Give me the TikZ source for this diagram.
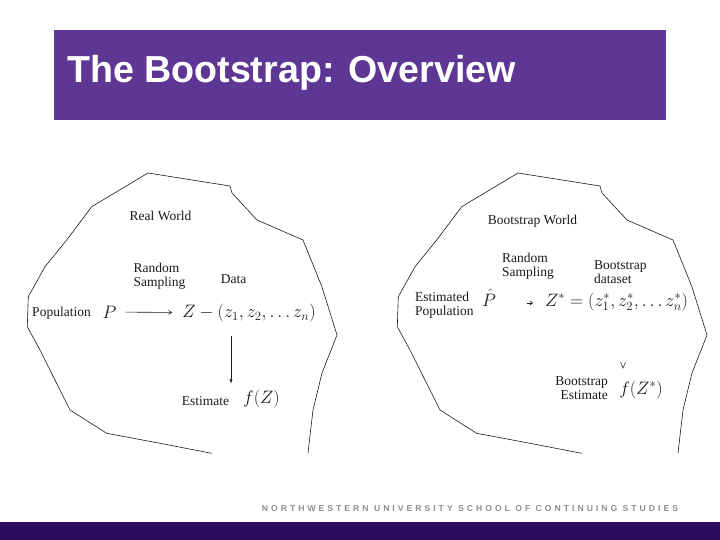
\RequirePackage{fix-cm}
\documentclass[tikz,border=0pt]{standalone}
\usepackage{fontspec}
\setmainfont{Liberation Serif}
\newfontfamily\titlefont{Liberation Sans}
\newfontfamily\footfont[LetterSpace=35]{Liberation Sans}
\usetikzlibrary{arrows.meta}
\definecolor{titlepurple}{HTML}{5E3694}
\definecolor{footpurple}{HTML}{2B0C5E}
\definecolor{footgray}{HTML}{8E8E8E}
\definecolor{ink}{HTML}{1A1A1A}
\tikzset{
  lbl/.style={inner sep=0pt, text=ink, font=\fontsize{13.5}{14}\selectfont},
  mth/.style={inner sep=0pt, text=ink, font=\fontsize{18}{20}\selectfont},
  blob/.style={draw=ink, line width=0.6pt, line join=round},
  arr/.style={draw=ink, line width=0.6pt},
}
\begin{document}
\begin{tikzpicture}[x=1pt,y=-1pt]
\useasboundingbox (0,0) rectangle (720,540);
\fill[white] (0,0) rectangle (720,540);
% title bar
\fill[titlepurple] (54,30) rectangle (666,120);
\node[anchor=base west, inner sep=0pt, text=white, font=\titlefont\bfseries\fontsize{37.6}{40}\selectfont] (title) at (67,83) {The Bootstrap: Overview};
% footer
\fill[footpurple] (0,522) rectangle (720,540);
\node[inner sep=0pt, text=footgray, font=\footfont\bfseries\fontsize{8.6}{9}\selectfont] (foot) at (470,509) {NORTHWESTERN UNIVERSITY SCHOOL OF CONTINUING STUDIES};
% blobs
\foreach \dx in {0,370}{
\draw[blob, shift={(\dx,0)}] (211.7,453.3) -- (160,443.3) -- (106.7,433.3) -- (70,410) -- (53.3,376.7) -- (40,350) -- (27.3,326.7) -- (28.3,296.7) -- (45,266.7) -- (66.7,240) -- (91.7,206.7) -- (148,173) -- (230,186) -- (232,193) -- (257,220) -- (303,240) -- (322,287) -- (337,335) -- (322,373) -- (313,410) -- (308,453);
}
% left: real world
\node[lbl] (rw) at (160.5,216) {Real World};
\node[lbl, align=left] (rs) at (159.5,276) {Random\\Sampling};
\node[lbl] (data) at (233.5,279) {Data};
\node[lbl] (pop) at (61.5,313) {Population};
\node[mth] (P) at (109.5,312) {$P$};
\node[mth] (Zx) at (249,313) {$Z - (z_1, z_2, \ldots z_n)$};
\node[lbl] (est) at (205.5,401) {Estimate};
\node[mth] (fZ) at (261.5,399) {$f(Z)$};
\draw[arr, -{Straight Barb[length=3pt,width=4pt]}, shorten <=9pt, shorten >=10pt] (P) -- (Zx);
\coordinate (vtop) at (231,336);
\coordinate (vbot) at (231,384);
\draw[arr, -{Latex[length=5pt,width=3pt]}] (vtop) -- (vbot);
% right: bootstrap world
\node[lbl] (bw) at (532.5,221) {Bootstrap World};
\node[lbl, align=left] (rs2) at (528,266.5) {Random\\Sampling};
\node[lbl, align=left, anchor=west] (bd) at (594,272) {Bootstrap\\dataset};
\node[lbl, align=left, anchor=west] (ep) at (415,305.5) {Estimated\\Population};
\node[mth] (Ph) at (489,297.5) {$\hat{P}$};
\node[mth] (Zs) at (616.5,302) {$Z^* = (z_1^*, z_2^*, \ldots z_n^*)$};
\node[lbl, align=right, anchor=east] (be) at (608,388) {Bootstrap\\Estimate};
\node[mth] (fZs) at (641,390) {$f(Z^*)$};
\coordinate (t1) at (527,303);
\coordinate (t2) at (533,303);
\draw[arr, -{Straight Barb[length=2.5pt,width=4pt]}] (t1) -- (t2);
\coordinate (v1) at (620.5,362);
\coordinate (v2) at (623,368);
\coordinate (v3) at (625.5,362);
\draw[arr, line width=0.5pt] (v1) -- (v2) -- (v3);
\end{tikzpicture}
\end{document}
